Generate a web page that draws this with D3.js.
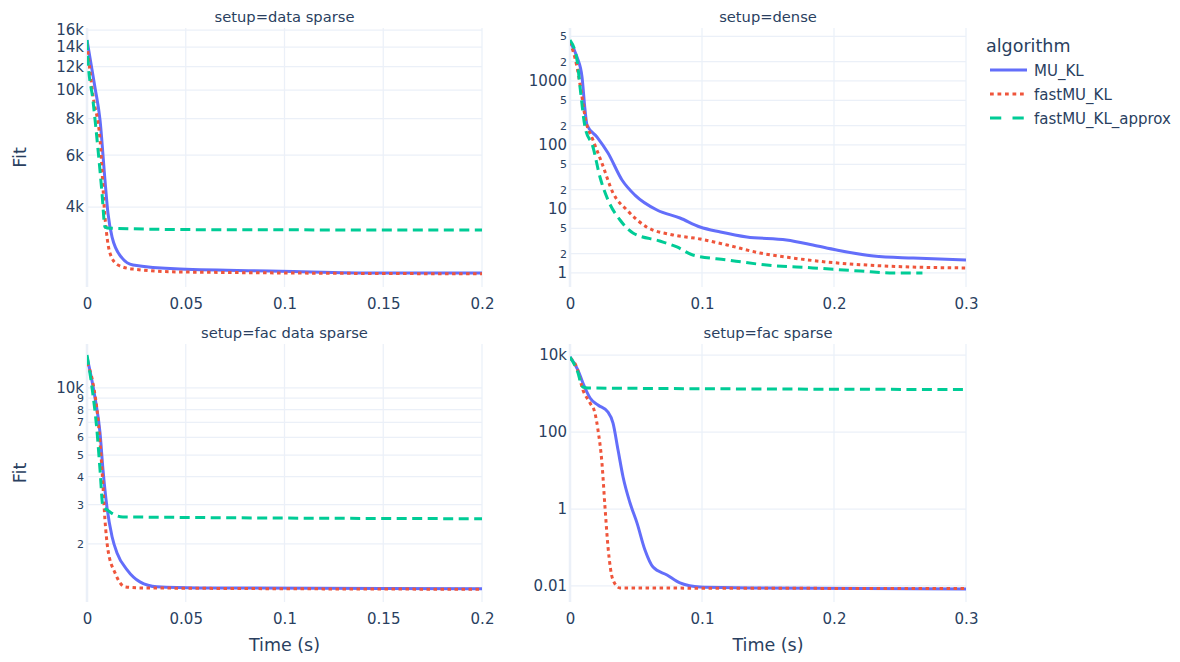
<!DOCTYPE html>
<html><head><meta charset="utf-8">
<script src="https://cdn.jsdelivr.net/npm/d3@7"></script>
<style>
body{margin:0;background:#fff}
text{font-family:"DejaVu Sans",Verdana,sans-serif;fill:#2a3f5f}
</style>
</head><body>
<svg id="c" width="1180" height="662"></svg>
<script>
// ---------- DATA ----------
const algorithms = ["MU_KL", "fastMU_KL", "fastMU_KL_approx"];
const setups = ["data sparse", "dense", "fac data sparse", "fac sparse"];

// setup = data sparse
const dsMU_t = [0, 0.004, 0.0066, 0.0091, 0.0106, 0.0127, 0.0177, 0.0233, 0.047, 0.098, 0.148, 0.2];
const dsMU_v = [14800, 10240, 7900, 4940, 3820, 3160, 2685, 2540, 2460, 2420, 2385, 2385];
const dsFast_t = [0, 0.003, 0.0066, 0.0091, 0.0116, 0.0157, 0.0233, 0.047, 0.2];
const dsFast_v = [14330, 9610, 6760, 3700, 2790, 2540, 2460, 2405, 2370];
const dsApprox_t = [0, 0.0005, 0.003, 0.0056, 0.0076, 0.0091, 0.0116, 0.057, 0.2];
const dsApprox_v = [14800, 12650, 9250, 6250, 4460, 3420, 3390, 3350, 3340];

// setup = dense
const dMU_t = [0, 0.0053, 0.0091, 0.0114, 0.0129, 0.0205, 0.0288, 0.0394, 0.0492, 0.0659, 0.0833, 0.0985, 0.114, 0.134, 0.164, 0.184, 0.202, 0.23, 0.26, 0.3];
const dMU_v = [4070, 2370, 1155, 352, 205, 133, 75, 28.4, 16.5, 9.64, 7.23, 5.23, 4.37, 3.65, 3.28, 2.74, 2.29, 1.84, 1.71, 1.6];
const dFast_t = [0, 0.0053, 0.0091, 0.0114, 0.0174, 0.0242, 0.0326, 0.0432, 0.0583, 0.078, 0.0985, 0.119, 0.144, 0.169, 0.195, 0.225, 0.258, 0.3];
const dFast_v = [4070, 1655, 562, 274, 120, 52, 17.8, 9.6, 5.2, 3.93, 3.4, 2.74, 2.05, 1.71, 1.48, 1.33, 1.24, 1.2];
const dApprox_t = [0, 0.0053, 0.0076, 0.0114, 0.0174, 0.0227, 0.0288, 0.0379, 0.0477, 0.068, 0.081, 0.093, 0.119, 0.149, 0.184, 0.22, 0.245, 0.267];
const dApprox_v = [4370, 2130, 806, 191, 93, 31.6, 13.8, 6.73, 4.22, 3.16, 2.55, 1.91, 1.6, 1.33, 1.2, 1.07, 1.0, 1.0];

// setup = fac data sparse
const fdsMU_t = [0, 0.004, 0.0066, 0.0081, 0.0101, 0.0127, 0.0152, 0.0203, 0.0268, 0.0354, 0.057, 0.2];
const fdsMU_v = [13770, 9110, 6280, 4290, 2920, 2150, 1820, 1528, 1349, 1282, 1268, 1257];
const fdsFast_t = [0, 0.003, 0.0056, 0.0076, 0.0091, 0.0106, 0.0142, 0.0192, 0.0268, 0.2];
const fdsFast_v = [12940, 10520, 7200, 4290, 2560, 1880, 1480, 1282, 1268, 1250];
const fdsApprox_t = [0, 0.0025, 0.005, 0.0066, 0.0081, 0.0101, 0.0142, 0.0182, 0.2];
const fdsApprox_v = [14060, 10100, 6490, 4290, 2920, 2840, 2690, 2640, 2590];

// setup = fac sparse
const fsMU_t = [0, 0.006, 0.0098, 0.0152, 0.0212, 0.0288, 0.0326, 0.0364, 0.0402, 0.0455, 0.0508, 0.0568, 0.0629, 0.0735, 0.0833, 0.0985, 0.144, 0.3];
const fsMU_v = [8870, 4070, 1870, 764, 502, 330, 171, 34, 6.8, 1.43, 0.43, 0.086, 0.031, 0.0193, 0.012, 0.0094, 0.0089, 0.0084];
const fsFast_t = [0, 0.0053, 0.0098, 0.0152, 0.0189, 0.0212, 0.0242, 0.0265, 0.0288, 0.0326, 0.0379, 0.3];
const fsFast_v = [8360, 4590, 1233, 566, 312, 113, 15.7, 1.13, 0.103, 0.0143, 0.0089, 0.0086];
const fsApprox_t = [0, 0.0053, 0.0098, 0.0136, 0.3];
const fsApprox_v = [8870, 4070, 1476, 1390, 1270];

// ticks
const xTicksLeft = [0, 0.05, 0.1, 0.15, 0.2];
const xLabelsLeft = ["0", "0.05", "0.1", "0.15", "0.2"];
const xTicksRight = [0, 0.1, 0.2, 0.3];
const xLabelsRight = ["0", "0.1", "0.2", "0.3"];
const yTicksDS = [4000, 6000, 8000, 10000, 12000, 14000, 16000];
const yLabelsDS = ["4k", "6k", "8k", "10k", "12k", "14k", "16k"];
const yTicksD = [1, 2, 5, 10, 20, 50, 100, 200, 500, 1000, 2000, 5000];
const yLabelsD = ["1", "2", "5", "10", "2", "5", "100", "2", "5", "1000", "2", "5"];
const yTicksFDS = [2000, 3000, 4000, 5000, 6000, 7000, 8000, 9000, 10000];
const yLabelsFDS = ["2", "3", "4", "5", "6", "7", "8", "9", "10k"];
const yTicksFS = [0.01, 1, 100, 10000];
const yLabelsFS = ["0.01", "1", "100", "10k"];

// ---------- STYLE ----------
const colors = ["#636efa", "#EF553B", "#00cc96"];
const dashData = [null, "3.5,3.5", "10,5.5"];
const dashLegend = [null, "3.75,3.75", "11.25,11.25"];
const gridColor = "#EBF0F8";

const panels = [
  {title: "setup=" + setups[0], x0: 87, x1: 482, y0: 28, y1: 287, xdom: [0, 0.2], ydom: [2138, 16255],
   xt: xTicksLeft, xl: xLabelsLeft, yt: yTicksDS, yl: yLabelsDS, yTitle: true,
   series: [[dsMU_t, dsMU_v], [dsFast_t, dsFast_v], [dsApprox_t, dsApprox_v]]},
  {title: "setup=" + setups[1], x0: 570, x1: 966, y0: 28, y1: 287, xdom: [0, 0.3], ydom: [0.604, 6730],
   xt: xTicksRight, xl: xLabelsRight, yt: yTicksD, yl: yLabelsD, yTitle: false,
   series: [[dMU_t, dMU_v], [dFast_t, dFast_v], [dApprox_t, dApprox_v]]},
  {title: "setup=" + setups[2], x0: 87, x1: 482, y0: 344, y1: 602, xdom: [0, 0.2], ydom: [1096, 15740],
   xt: xTicksLeft, xl: xLabelsLeft, yt: yTicksFDS, yl: yLabelsFDS, yTitle: true, xTitle: true,
   series: [[fdsMU_t, fdsMU_v], [fdsFast_t, fdsFast_v], [fdsApprox_t, fdsApprox_v]]},
  {title: "setup=" + setups[3], x0: 570, x1: 966, y0: 344, y1: 602, xdom: [0, 0.3], ydom: [0.00384, 19320],
   xt: xTicksRight, xl: xLabelsRight, yt: yTicksFS, yl: yLabelsFS, yTitle: false, xTitle: true,
   series: [[fsMU_t, fsMU_v], [fsFast_t, fsFast_v], [fsApprox_t, fsApprox_v]]}
];

const svg = d3.select("#c");
const defs = svg.append("defs");

panels.forEach((p, pi) => {
  const x = d3.scaleLinear().domain(p.xdom).range([p.x0, p.x1]);
  const y = d3.scaleLog().domain(p.ydom).range([p.y1, p.y0]);
  const g = svg.append("g");

  // grid
  g.selectAll(".gy").data(p.yt).join("line")
    .attr("x1", p.x0).attr("x2", p.x1)
    .attr("y1", d => y(d)).attr("y2", d => y(d))
    .attr("stroke", gridColor).attr("stroke-width", 1.25);
  g.selectAll(".gx").data(p.xt.filter(d => d !== 0)).join("line")
    .attr("x1", d => x(d)).attr("x2", d => x(d))
    .attr("y1", p.y0).attr("y2", p.y1)
    .attr("stroke", gridColor).attr("stroke-width", 1.25);
  // zero line
  g.append("line").attr("x1", x(0)).attr("x2", x(0)).attr("y1", p.y0).attr("y2", p.y1)
    .attr("stroke", gridColor).attr("stroke-width", 2.5);

  // x axis
  const xa = d3.axisBottom(x).tickValues(p.xt).tickFormat((d, i) => p.xl[i]).tickSize(0).tickPadding(11);
  const gx = g.append("g").attr("transform", `translate(0,${p.y1})`).call(xa);
  gx.select(".domain").remove();
  gx.selectAll("text").style("font-size", "15px").attr("fill", "#2a3f5f");

  // y axis
  const ya = d3.axisLeft(y).tickValues(p.yt).tickFormat((d, i) => p.yl[i]).tickSize(0).tickPadding(3);
  const gy = g.append("g").attr("transform", `translate(${p.x0},0)`).call(ya);
  gy.select(".domain").remove();
  gy.selectAll("text").style("font-size", (d, i) => /^[2-9]$/.test(p.yl[i]) ? "11px" : "15px")
    .attr("fill", "#2a3f5f");

  // clip + lines
  const cid = "clip" + pi;
  defs.append("clipPath").attr("id", cid).append("rect")
    .attr("x", p.x0).attr("y", p.y0).attr("width", p.x1 - p.x0).attr("height", p.y1 - p.y0);
  const line = d3.line().x(d => x(d[0])).y(d => y(d[1])).curve(d3.curveMonotoneX);
  const lg = g.append("g").attr("clip-path", `url(#${cid})`);
  p.series.forEach((s, si) => {
    const pts = s[0].map((t, k) => [t, s[1][k]]);
    lg.append("path").datum(pts).attr("d", line)
      .attr("fill", "none").attr("stroke", colors[si]).attr("stroke-width", 3)
      .attr("stroke-linejoin", "round")
      .attr("stroke-dasharray", dashData[si]);
  });

  // subplot title
  g.append("text").attr("x", (p.x0 + p.x1) / 2).attr("y", p.y0 - 6)
    .attr("text-anchor", "middle").style("font-size", "14.7px").text(p.title);

  if (p.xTitle) {
    g.append("text").attr("x", (p.x0 + p.x1) / 2).attr("y", 651)
      .attr("text-anchor", "middle").style("font-size", "17.5px").text("Time (s)");
  }
  if (p.yTitle) {
    const cy = (p.y0 + p.y1) / 2;
    g.append("text").attr("transform", `translate(26,${cy}) rotate(-90)`)
      .attr("text-anchor", "middle").style("font-size", "17.5px").text("Fit");
  }
});

// legend
const leg = svg.append("g");
leg.append("text").attr("x", 986).attr("y", 52).style("font-size", "17.5px").text("algorithm");
algorithms.forEach((a, i) => {
  const yy = 70 + i * 24;
  leg.append("line").attr("x1", 990).attr("x2", 1027).attr("y1", yy).attr("y2", yy)
    .attr("stroke", colors[i]).attr("stroke-width", 3).attr("stroke-dasharray", dashLegend[i]);
  leg.append("text").attr("x", 1034).attr("y", yy + 5.5).style("font-size", "15px").text(a);
});
</script>
</body></html>
